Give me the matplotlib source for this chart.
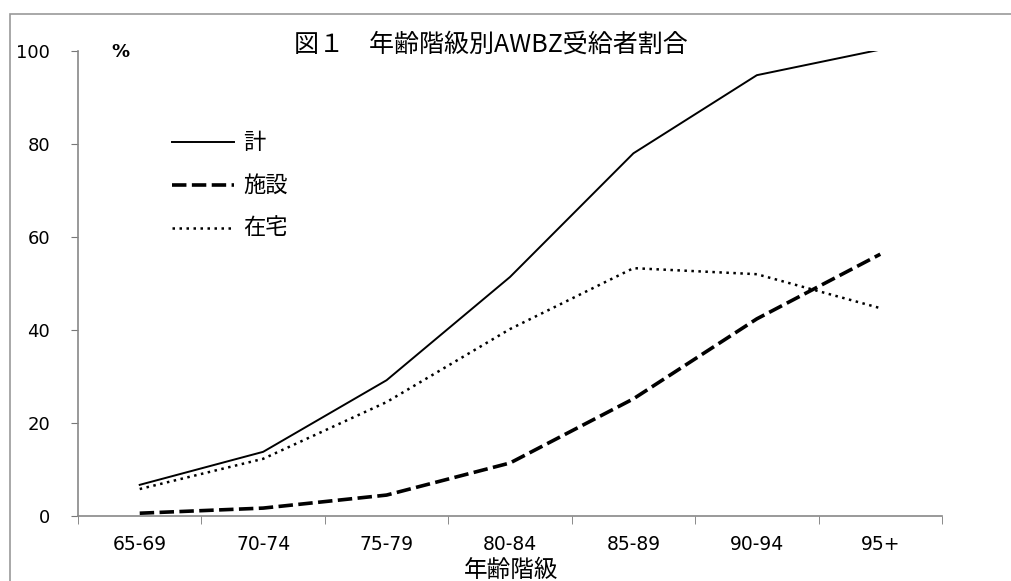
import matplotlib.pyplot as plt
from matplotlib.patches import Rectangle

plt.rcParams['font.family'] = ['DejaVu Sans', 'Noto Sans CJK JP']

age_groups = ['65-69', '70-74', '75-79', '80-84', '85-89', '90-94', '95+']
total = [6.7, 13.8, 29.2, 51.4, 78.0, 94.8, 100.3]
institution = [0.6, 1.7, 4.5, 11.4, 25.2, 42.4, 56.3]
home = [5.8, 12.3, 24.5, 40.2, 53.3, 52.0, 44.7]
series_labels = ['計', '施設', '在宅']

W, H = 1011, 581
fig = plt.figure(figsize=(W / 100, H / 100), dpi=100)
ax = fig.add_axes([78 / W, 1 - 516 / H, (942 - 78) / W, (516 - 51) / H])

styles = [dict(lw=1.4, linestyle='-'),
          dict(lw=2.6, linestyle=(0, (4, 1.5))),
          dict(lw=1.8, linestyle=(0, (1, 1.8)))]

x = range(len(age_groups))
for ys, st in zip([total, institution, home], styles):
    ax.plot(x, ys, color='black', **st)

ax.set_xlim(-0.5, len(age_groups) - 0.5)
ax.set_ylim(0, 100)
ax.set_yticks(range(0, 101, 20))
ax.set_xticks(x)
ax.set_xticklabels(age_groups, fontsize=13.5)
ax.set_xticks([i - 0.5 for i in range(len(age_groups) + 1)], minor=True)
ax.tick_params(axis='x', which='major', length=0, pad=14)
ax.tick_params(axis='x', which='minor', length=6, direction='out', color='#777777')
ax.tick_params(axis='y', length=5, direction='out', color='#777777', labelsize=13, pad=15)
for s in ['top', 'right']:
    ax.spines[s].set_visible(False)
for s in ['left', 'bottom']:
    ax.spines[s].set_color('#888888')
    ax.spines[s].set_linewidth(1.2)

# legend drawn inline like the original
leg_y = [142, 185, 228]
for lab, yy, st in zip(series_labels, leg_y, styles):
    fig.add_artist(plt.Line2D([172 / W, 234 / W], [1 - yy / H] * 2, color='black', **st))
    fig.text(243 / W, 1 - yy / H, lab, fontsize=16, va='center', ha='left',
             family=['Noto Sans CJK JP'])

fig.text(491 / W, 1 - 45 / H, '図１　年齢階級別AWBZ受給者割合', fontsize=18,
         ha='center', va='center', family=['Noto Sans CJK JP'])
fig.text(120 / W, 1 - 52 / H, '%', fontsize=13, ha='center', va='center', fontweight='bold')
fig.text(511 / W, 1 - 570 / H, '年齢階級', fontsize=17, ha='center', va='center',
         family=['Noto Sans CJK JP'])

fig.add_artist(Rectangle((10 / W, -0.01), (W + 5) / W, 1 - 14 / H + 0.01,
                         transform=fig.transFigure, fill=False, edgecolor='#999999', lw=1.2))

fig.savefig('out.png', dpi=100)
